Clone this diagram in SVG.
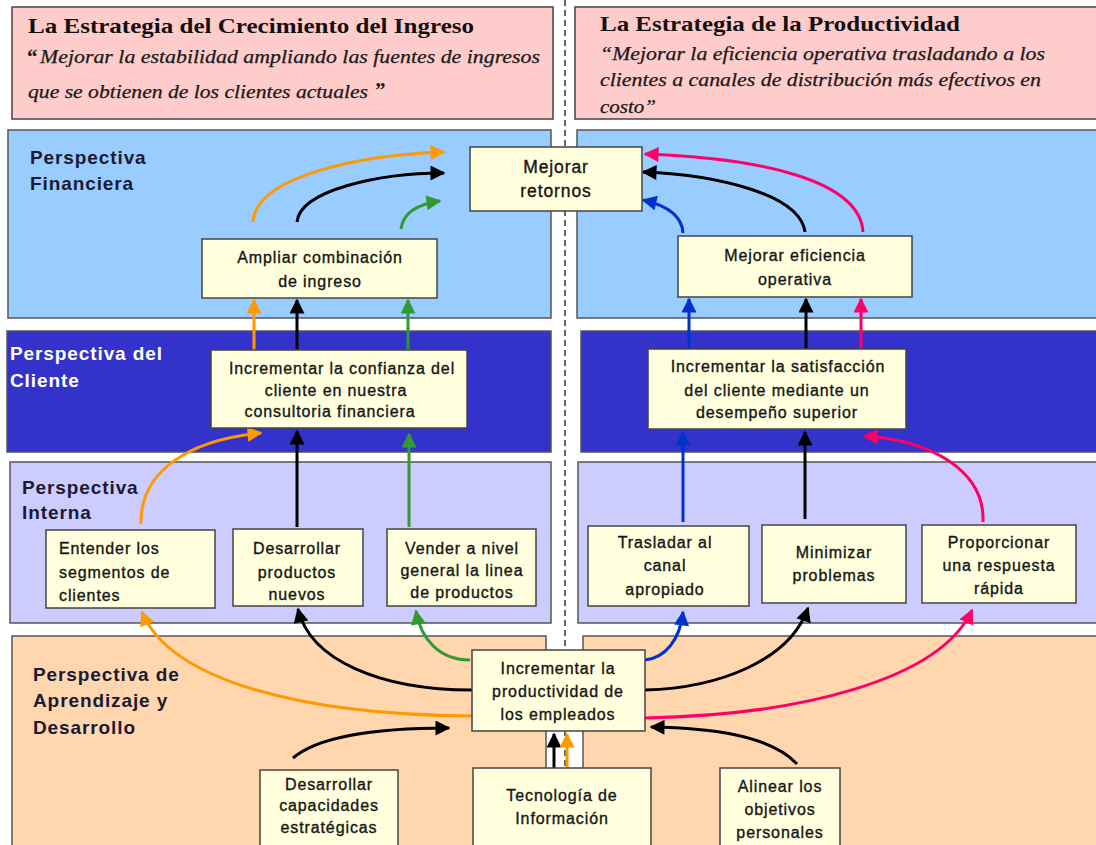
<svg xmlns="http://www.w3.org/2000/svg" width="1096" height="845" viewBox="0 0 1096 845">
  <style>
    .hdr { fill: #ffcccc; stroke: #444; stroke-width: 1.5; }
    .title { font-family: "Liberation Serif", "Times New Roman", serif; font-weight: bold; font-size: 22px; fill: #111; }
    .quote { font-family: "Liberation Serif", "Times New Roman", serif; font-style: italic; font-size: 18px; fill: #1a1a1a; stroke: #1a1a1a; stroke-width: 0.25px; }
    .qmark { font-family: "Liberation Serif", "Times New Roman", serif; font-weight: bold; font-size: 21px; fill: #1a1a1a; }
    .band { stroke: #555; stroke-width: 1.5; }
    .fin { fill: #99ccff; }
    .cli { fill: #3333cc; }
    .int { fill: #ccccff; }
    .apr { fill: #ffd6ae; }
    .blabel { font-family: "Liberation Sans", Arial, sans-serif; font-weight: bold; font-size: 19px; letter-spacing: 0.9px; fill: #1a1a33; }
    .blabel.w { fill: #ffffff; }
    .box { fill: #ffffdd; stroke: #444; stroke-width: 1.5; }
    .nt { font-family: "Liberation Sans", Arial, sans-serif; font-size: 16px; letter-spacing: 0.9px; fill: #161616; stroke: #161616; stroke-width: 0.35px; text-anchor: middle; }
    .nl { text-anchor: start; }
    .c { fill: none; stroke-width: 3; }
    .k { stroke: #000; }
    .o { stroke: #ff9900; }
    .g { stroke: #339933; }
    .b { stroke: #0033cc; }
    .p { stroke: #ff0066; }
    .divider { stroke: #333; stroke-width: 1.5; stroke-dasharray: 6 4; }
  </style>
  <defs>
    <marker id="mk" viewBox="0 0 10 10" refX="9" refY="5" markerWidth="5.3" markerHeight="5" orient="auto"><path d="M0,0 L10,5 L0,10 z" fill="#000"/></marker>
    <marker id="mo" viewBox="0 0 10 10" refX="9" refY="5" markerWidth="5.3" markerHeight="5" orient="auto"><path d="M0,0 L10,5 L0,10 z" fill="#ff9900"/></marker>
    <marker id="mg" viewBox="0 0 10 10" refX="9" refY="5" markerWidth="5.3" markerHeight="5" orient="auto"><path d="M0,0 L10,5 L0,10 z" fill="#339933"/></marker>
    <marker id="mb" viewBox="0 0 10 10" refX="9" refY="5" markerWidth="5.3" markerHeight="5" orient="auto"><path d="M0,0 L10,5 L0,10 z" fill="#0033cc"/></marker>
    <marker id="mp" viewBox="0 0 10 10" refX="9" refY="5" markerWidth="5.3" markerHeight="5" orient="auto"><path d="M0,0 L10,5 L0,10 z" fill="#ff0066"/></marker>
  </defs>

  <rect width="1096" height="845" fill="#ffffff"/>

  <!-- dashed split between the two strategies -->
  <line class="divider" x1="565" y1="0" x2="565" y2="845"/>

  <!-- strategy headers -->
  <g id="header-ingreso">
    <rect class="hdr" x="12" y="7" width="541" height="112"/>
    <text class="title" x="28" y="33" textLength="446" lengthAdjust="spacingAndGlyphs">La Estrategia del Crecimiento del Ingreso</text>
    <text class="qmark" x="27" y="64">“</text>
    <text class="quote" x="40" y="63" textLength="500" lengthAdjust="spacingAndGlyphs">Mejorar la estabilidad ampliando las fuentes de ingresos</text>
    <text class="quote" x="28" y="98" textLength="340" lengthAdjust="spacingAndGlyphs">que se obtienen de los clientes actuales</text>
    <text class="qmark" x="375" y="97">”</text>
  </g>
  <g id="header-productividad">
    <rect class="hdr" x="575" y="7" width="530" height="112"/>
    <text class="title" x="600" y="31" textLength="360" lengthAdjust="spacingAndGlyphs">La Estrategia de la Productividad</text>
    <text class="quote" x="600" y="60" textLength="445" lengthAdjust="spacingAndGlyphs">“Mejorar la eficiencia operativa trasladando a los</text>
    <text class="quote" x="600" y="86" textLength="441" lengthAdjust="spacingAndGlyphs">clientes a canales de distribución más efectivos en</text>
    <text class="quote" x="600" y="113" textLength="56" lengthAdjust="spacingAndGlyphs">costo”</text>
  </g>

  <!-- perspective bands -->
  <g id="band-financiera">
    <rect class="band fin" x="8" y="130" width="543" height="188"/>
    <rect class="band fin" x="577" y="130" width="525" height="188"/>
    <text class="blabel" x="30" y="164">Perspectiva</text>
    <text class="blabel" x="30" y="190">Financiera</text>
  </g>
  <g id="band-cliente">
    <rect class="band cli" x="7" y="331" width="544" height="121"/>
    <rect class="band cli" x="581" y="331" width="521" height="121"/>
    <text class="blabel w" x="10" y="360">Perspectiva del</text>
    <text class="blabel w" x="10" y="387">Cliente</text>
  </g>
  <g id="band-interna">
    <rect class="band int" x="10" y="462" width="541" height="161"/>
    <rect class="band int" x="578" y="462" width="524" height="161"/>
    <text class="blabel" x="22" y="494">Perspectiva</text>
    <text class="blabel" x="22" y="519">Interna</text>
  </g>
  <g id="band-aprendizaje">
    <rect class="band apr" x="12" y="636" width="534" height="215"/>
    <rect class="band apr" x="583" y="636" width="519" height="215"/>
    <text class="blabel" x="33" y="681">Perspectiva de</text>
    <text class="blabel" x="33" y="707">Aprendizaje y</text>
    <text class="blabel" x="33" y="734">Desarrollo</text>
  </g>

  <!-- connectors -->
  <g id="connectors">
    <!-- revenue growth strategy -->
    <path class="c o" d="M253,222 C256,176 360,155 444,152" marker-end="url(#mo)"/>
    <path class="c k" d="M297,222 C300,190 380,173 444,173" marker-end="url(#mk)"/>
    <path class="c g" d="M401,229 C403,213 418,204 440,201" marker-end="url(#mg)"/>
    <path class="c o" d="M254,350 L254,300" marker-end="url(#mo)"/>
    <path class="c k" d="M297,350 L297,300" marker-end="url(#mk)"/>
    <path class="c g" d="M408,350 L408,300" marker-end="url(#mg)"/>
    <path class="c o" d="M141,524 C140,470 190,440 261,433" marker-end="url(#mo)"/>
    <path class="c k" d="M297,527 L297,431" marker-end="url(#mk)"/>
    <path class="c g" d="M409,527 L409,434" marker-end="url(#mg)"/>
    <path class="c o" d="M472,716 C300,715 170,680 142,612" marker-end="url(#mo)"/>
    <path class="c k" d="M472,690 C380,690 310,660 298,609" marker-end="url(#mk)"/>
    <path class="c g" d="M470,660 C440,660 421,640 416,611" marker-end="url(#mg)"/>
    <path class="c k" d="M293,758 C320,735 380,728 449,728" marker-end="url(#mk)"/>
    <path class="c k" d="M554,768 L554,734" marker-end="url(#mk)"/>
    <path class="c o" d="M567,768 L567,734" marker-end="url(#mo)"/>
    <path class="c k" d="M797,764 C770,735 710,728 651,727" marker-end="url(#mk)"/>
    <!-- productivity strategy -->
    <path class="c b" d="M683,233 C682,215 665,205 643,200" marker-end="url(#mb)"/>
    <path class="c k" d="M805,232 C800,195 720,175 643,172" marker-end="url(#mk)"/>
    <path class="c p" d="M863,232 C860,180 760,158 645,154" marker-end="url(#mp)"/>
    <path class="c b" d="M689,349 L689,299" marker-end="url(#mb)"/>
    <path class="c k" d="M806,349 L806,299" marker-end="url(#mk)"/>
    <path class="c p" d="M861,349 L861,299" marker-end="url(#mp)"/>
    <path class="c b" d="M683,522 L683,432" marker-end="url(#mb)"/>
    <path class="c k" d="M805,519 L805,432" marker-end="url(#mk)"/>
    <path class="c p" d="M983,522 C985,470 930,440 864,436" marker-end="url(#mp)"/>
    <path class="c b" d="M645,660 C665,658 680,640 683,612" marker-end="url(#mb)"/>
    <path class="c k" d="M645,690 C720,688 790,660 808,608" marker-end="url(#mk)"/>
    <path class="c p" d="M645,718 C800,715 940,680 972,610" marker-end="url(#mp)"/>
  </g>

  <!-- objective nodes -->
  <g id="n-mejorar-retornos">
    <rect class="box" x="470" y="147" width="172" height="64"/>
    <text class="nt" x="556" y="173" style="font-size:17.5px">Mejorar</text>
    <text class="nt" x="556" y="197" style="font-size:17.5px">retornos</text>
  </g>
  <g id="n-ampliar">
    <rect class="box" x="202" y="239" width="235" height="59"/>
    <text class="nt" x="320" y="263">Ampliar combinación</text>
    <text class="nt" x="320" y="287">de ingreso</text>
  </g>
  <g id="n-eficiencia">
    <rect class="box" x="678" y="236" width="234" height="61"/>
    <text class="nt" x="795" y="261">Mejorar eficiencia</text>
    <text class="nt" x="795" y="285">operativa</text>
  </g>
  <g id="n-confianza">
    <rect class="box" x="211" y="350" width="256" height="78"/>
    <text class="nt" x="342" y="374">Incrementar la confianza del</text>
    <text class="nt" x="336" y="396">cliente en nuestra</text>
    <text class="nt" x="330" y="417">consultoria financiera</text>
  </g>
  <g id="n-satisfaccion">
    <rect class="box" x="648" y="349" width="258" height="80"/>
    <text class="nt" x="778" y="372">Incrementar la satisfacción</text>
    <text class="nt" x="777" y="396">del cliente mediante un</text>
    <text class="nt" x="777" y="418">desempeño superior</text>
  </g>
  <g id="n-entender">
    <rect class="box" x="46" y="530" width="169" height="78"/>
    <text class="nt nl" x="59" y="554">Entender los</text>
    <text class="nt nl" x="59" y="578">segmentos de</text>
    <text class="nt nl" x="59" y="601">clientes</text>
  </g>
  <g id="n-desarrollar-productos">
    <rect class="box" x="233" y="529" width="130" height="77"/>
    <text class="nt" x="297" y="554">Desarrollar</text>
    <text class="nt" x="297" y="578">productos</text>
    <text class="nt" x="297" y="600">nuevos</text>
  </g>
  <g id="n-vender">
    <rect class="box" x="387" y="529" width="149" height="77"/>
    <text class="nt" x="462" y="554">Vender a nivel</text>
    <text class="nt" x="462" y="576">general la linea</text>
    <text class="nt" x="462" y="598">de productos</text>
  </g>
  <g id="n-trasladar">
    <rect class="box" x="588" y="526" width="161" height="80"/>
    <text class="nt" x="665" y="548">Trasladar al</text>
    <text class="nt" x="665" y="571">canal</text>
    <text class="nt" x="665" y="595">apropiado</text>
  </g>
  <g id="n-minimizar">
    <rect class="box" x="762" y="525" width="144" height="78"/>
    <text class="nt" x="834" y="558">Minimizar</text>
    <text class="nt" x="834" y="581">problemas</text>
  </g>
  <g id="n-proporcionar">
    <rect class="box" x="922" y="525" width="154" height="78"/>
    <text class="nt" x="999" y="548">Proporcionar</text>
    <text class="nt" x="999" y="571">una respuesta</text>
    <text class="nt" x="999" y="594">rápida</text>
  </g>
  <g id="n-productividad">
    <rect class="box" x="472" y="650" width="173" height="81"/>
    <text class="nt" x="558" y="674">Incrementar la</text>
    <text class="nt" x="558" y="697">productividad de</text>
    <text class="nt" x="558" y="720">los empleados</text>
  </g>
  <g id="n-capacidades">
    <rect class="box" x="260" y="770" width="138" height="80"/>
    <text class="nt" x="329" y="790">Desarrollar</text>
    <text class="nt" x="329" y="811">capacidades</text>
    <text class="nt" x="329" y="833">estratégicas</text>
  </g>
  <g id="n-tecnologia">
    <rect class="box" x="473" y="768" width="178" height="82"/>
    <text class="nt" x="562" y="801">Tecnología de</text>
    <text class="nt" x="562" y="824">Información</text>
  </g>
  <g id="n-alinear">
    <rect class="box" x="720" y="768" width="120" height="82"/>
    <text class="nt" x="780" y="792">Alinear los</text>
    <text class="nt" x="780" y="815">objetivos</text>
    <text class="nt" x="780" y="838">personales</text>
  </g>
</svg>
